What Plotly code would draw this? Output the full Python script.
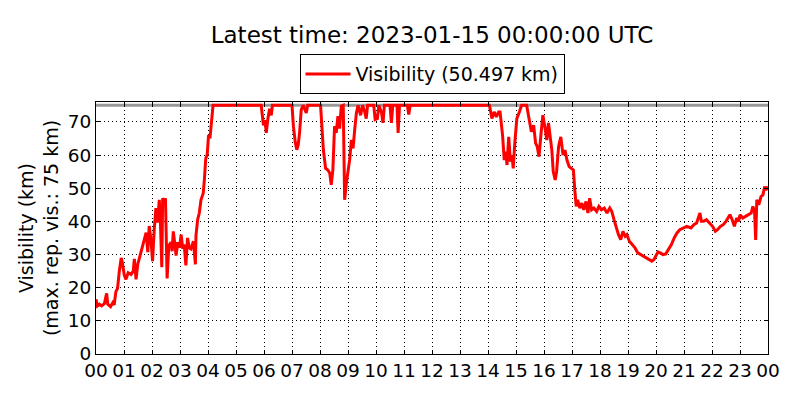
import plotly.graph_objects as go

# ---- data (hours since 00 UTC, visibility km) ----
hours = [
    0.00, 0.05, 0.12, 0.20, 0.30, 0.38, 0.42, 0.52, 0.60, 0.65, 0.71, 0.77, 0.83, 0.90, 0.93,
    1.01, 1.07, 1.15, 1.25, 1.33, 1.37, 1.43, 1.49, 1.55, 1.60, 1.67, 1.73, 1.79, 1.85, 1.90, 1.96,
    2.02, 2.08, 2.14, 2.20, 2.26, 2.30, 2.35, 2.38, 2.44, 2.48, 2.54, 2.60, 2.68, 2.72, 2.76, 2.82,
    2.86, 2.92, 2.98, 3.04, 3.10, 3.15, 3.21, 3.27, 3.33, 3.39, 3.48, 3.55, 3.57, 3.63, 3.69, 3.75,
    3.83, 3.87, 3.92, 3.97, 4.02, 4.07, 4.12, 4.18,
    5.90, 5.93, 5.98, 6.04, 6.08, 6.14, 6.20, 6.26, 6.30,
    7.00, 7.05, 7.12, 7.17, 7.22, 7.27, 7.33, 7.40, 7.51, 7.56,
    8.02, 8.08, 8.12, 8.20, 8.28, 8.35, 8.40, 8.46, 8.52, 8.58, 8.64, 8.70, 8.76, 8.83, 8.88,
    8.94, 9.00, 9.06, 9.12, 9.18, 9.24, 9.30, 9.36, 9.45, 9.52, 9.60, 9.65, 9.70, 9.92, 9.97,
    10.05, 10.10, 10.20, 10.25, 10.30, 10.50, 10.55, 10.60, 10.75, 10.79, 10.84, 11.12, 11.17, 11.22,
    14.05, 14.14, 14.22, 14.30, 14.38, 14.43, 14.52, 14.58, 14.63, 14.68, 14.74, 14.80, 14.86,
    14.90, 14.96, 15.03, 15.12, 15.20, 15.38, 15.47, 15.55, 15.63, 15.70, 15.76, 15.82, 15.90,
    15.96, 16.04, 16.10, 16.16, 16.22, 16.28, 16.33, 16.40, 16.45, 16.52, 16.60, 16.68, 16.75,
    16.82, 16.90, 16.98, 17.05, 17.10, 17.15, 17.20, 17.28, 17.35, 17.42, 17.50, 17.57, 17.63,
    17.70, 17.78, 17.88, 17.96, 18.05, 18.15, 18.25, 18.35, 18.42, 18.50, 18.58, 18.66, 18.74,
    18.82, 18.90, 18.96, 19.05, 19.15, 19.25, 19.35, 19.45, 19.55, 19.65, 19.75, 19.85, 19.93,
    20.00, 20.07, 20.15, 20.25, 20.35, 20.45, 20.55, 20.65, 20.75, 20.85, 20.95, 21.10, 21.25,
    21.35, 21.45, 21.57, 21.62, 21.70, 21.80, 21.93, 22.02, 22.12, 22.20, 22.30, 22.40, 22.50,
    22.60, 22.64, 22.72, 22.80, 22.88, 22.95, 23.00, 23.10, 23.20, 23.30, 23.40, 23.46, 23.52,
    23.56, 23.60, 23.67, 23.75, 23.82, 23.88, 23.93, 24.00,
]
visibility = [
    16.5, 14.5, 15.0, 14.5, 15.2, 18.3, 15.0, 14.3, 15.5, 14.8, 18.8, 19.8, 24.8, 29.0, 28.0,
    23.8, 22.5, 24.5, 24.0, 25.0, 28.7, 22.5, 27.0, 29.0, 31.0, 33.0, 35.0, 36.6, 30.7, 38.6, 34.7,
    28.0, 37.6, 44.0, 39.6, 46.5, 40.0, 26.2, 47.0, 46.0, 47.0, 22.8, 32.7, 33.7, 31.0, 37.0, 33.0,
    29.7, 33.7, 32.0, 36.0, 31.7, 33.0, 26.7, 35.0, 32.0, 31.7, 34.0, 27.0, 35.6, 40.5, 42.6, 46.5,
    48.5, 52.5, 59.0, 60.0, 66.0, 65.0, 70.0, 75.0,
    75.0, 73.0, 69.0, 70.5, 66.7, 71.0, 74.0, 72.0, 75.0,
    75.0, 68.7, 63.6, 61.6, 63.0, 66.7, 73.7, 75.0, 72.7, 75.0,
    75.0, 68.0, 61.6, 56.0, 55.5, 54.5, 51.0, 55.5, 68.7, 66.7, 71.7, 68.0, 74.7, 75.0, 46.5,
    51.5, 55.0, 58.6, 64.6, 62.0, 67.7, 72.7, 75.0, 72.0, 75.0, 73.0, 71.0, 75.0, 75.0, 70.7,
    71.0, 75.0, 72.7, 69.7, 75.0, 75.0, 69.7, 75.0, 75.0, 66.7, 75.0, 75.0, 72.2, 75.0,
    75.0, 71.0, 73.0, 71.5, 73.0, 73.0, 66.0, 58.5, 61.0, 57.0, 65.5, 58.0, 60.0,
    56.0, 64.0, 71.0, 73.0, 75.0, 75.0, 70.0, 67.0, 69.0, 63.6, 62.5, 59.5, 67.0,
    72.0, 68.0, 64.5, 69.7, 66.0, 61.5, 55.0, 52.5, 55.0, 62.5, 65.5, 60.0, 61.5,
    58.5, 56.5, 56.0, 55.5, 49.5, 44.5, 46.5, 44.0, 45.5, 43.5, 46.0, 42.5, 47.0,
    43.5, 44.0, 43.0, 44.5, 43.5, 44.0, 42.5, 44.0, 43.0, 40.5, 38.0, 36.0, 34.5,
    37.0, 35.5, 36.0, 34.0, 33.0, 32.0, 30.5, 30.0, 29.4, 29.0, 28.5, 28.0, 28.5,
    29.5, 30.8, 30.5, 30.0, 30.2, 31.5, 33.0, 35.0, 36.5, 37.5, 38.0, 38.5, 38.0,
    39.0, 39.5, 42.5, 40.0, 40.0, 40.5, 39.5, 38.5, 37.0, 37.5, 38.5, 39.0, 40.0,
    41.5, 42.0, 40.5, 38.5, 41.0, 40.0, 42.0, 41.0, 41.5, 42.0, 42.5, 44.5, 43.0,
    34.4, 46.5, 45.0, 47.5, 48.0, 50.5, 49.5, 50.497,
]
tick_hours = list(range(0, 25))
tick_labels = [f"{h % 24:02d}" for h in tick_hours]
y_ticks = [0, 10, 20, 30, 40, 50, 60, 70]
MAX_VIS = 75
Y_MAX = 76
latest_value = visibility[-1]
title_text = "Latest time: 2023-01-15 00:00:00 UTC"

FONT = "DejaVu Sans"

fig = go.Figure()
fig.add_trace(go.Scatter(
    x=hours, y=visibility, mode="lines",
    line=dict(color="#ff0000", width=3),
    name=f"Visibility ({latest_value:.3f} km)",
    showlegend=True,
))

fig.add_hline(y=MAX_VIS, line=dict(color="#999999", width=3), layer="below")

axis_common = dict(
    showline=True, linecolor="black", linewidth=1, mirror="ticks",
    ticks="inside", ticklen=4, tickcolor="black", tickwidth=1,
    showgrid=True, gridcolor="black", gridwidth=1, griddash="1px,3px",
    zeroline=False, tickfont=dict(family=FONT, size=18.5, color="black"),
)

fig.update_xaxes(
    range=[0, 24], tickvals=tick_hours, ticktext=tick_labels, **axis_common,
)
fig.update_yaxes(
    range=[0, Y_MAX], tickvals=y_ticks, **axis_common,
    title=dict(text="Visibility (km)<br>(max. rep. vis.: 75 km)",
               font=dict(family=FONT, size=19, color="black"), standoff=4),
)

# the page body has an 8px default margin, so shift everything up/left by 8px
fig.update_layout(
    width=800, height=400,
    margin=dict(l=88, r=40, t=94, b=54),
    paper_bgcolor="white", plot_bgcolor="white",
    font=dict(family=FONT, color="black"),
    title=dict(text=title_text, x=0.53, xanchor="center", y=0.9325, yanchor="middle",
               font=dict(family=FONT, size=23, color="black")),
    legend=dict(
        orientation="h", x=0.5, xanchor="center", y=1.19, yanchor="top",
        bordercolor="black", borderwidth=1, bgcolor="white", itemwidth=45,
        font=dict(family=FONT, size=19, color="black"),
    ),
)

fig.write_html("out.html")
